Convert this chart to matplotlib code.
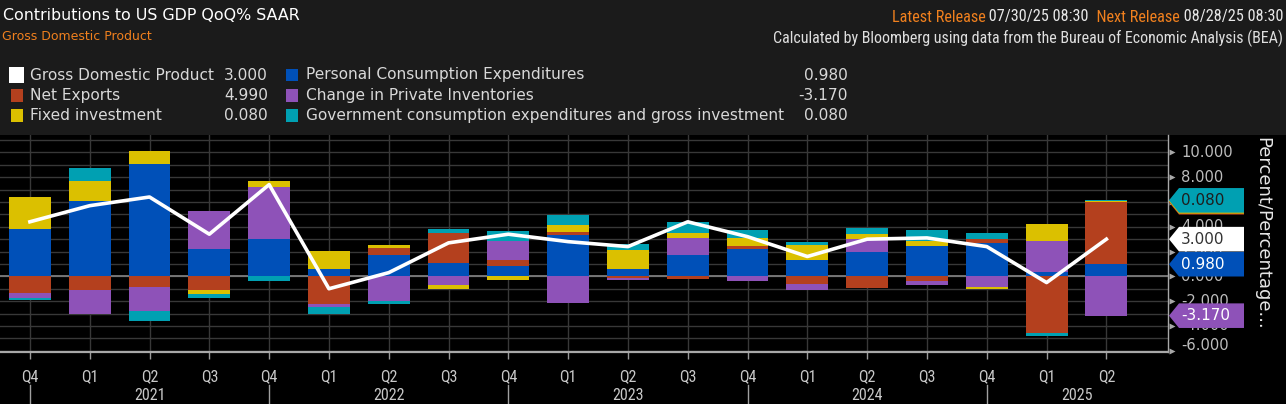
import matplotlib
matplotlib.use("Agg")
import matplotlib.pyplot as plt
import numpy as np
from matplotlib.patches import Polygon, Rectangle
from matplotlib.transforms import blended_transform_factory
from matplotlib import font_manager

# ---------------- data ----------------
quarters = ["Q4", "Q1", "Q2", "Q3", "Q4", "Q1", "Q2", "Q3", "Q4", "Q1",
            "Q2", "Q3", "Q4", "Q1", "Q2", "Q3", "Q4", "Q1", "Q2"]
years = ["2021", "2022", "2023", "2024", "2025"]

pce = [3.83, 6.09, 9.03, 2.18, 2.99, 0.62, 1.75, 1.05, 0.86, 3.32,
       0.62, 1.75, 2.24, 1.35, 1.97, 2.48, 2.70, 0.32, 0.98]
net_exports = [-1.32, -1.13, -0.84, -1.13, 0.00, -2.26, 0.51, 2.45, 0.49, 0.27,
               -0.10, -0.19, 0.22, -0.59, -0.92, -0.40, 0.30, -4.53, 4.99]
inventories = [-0.40, -1.91, -1.94, 3.07, 4.23, -0.19, -1.97, -0.67, 1.48, -2.13,
               -0.22, 1.35, -0.40, -0.51, 1.02, -0.27, -0.84, 2.56, -3.17]
fixed_inv = [2.56, 1.64, 1.05, -0.27, 0.49, 1.43, 0.30, -0.32, -0.30, 0.54,
             1.54, 0.38, 0.65, 1.16, 0.43, 0.38, -0.16, 1.32, 0.08]
government = [-0.22, 1.00, -0.81, -0.32, -0.38, -0.59, -0.27, 0.30, 0.86, 0.81,
              0.49, 0.94, 0.59, 0.27, 0.51, 0.84, 0.49, -0.30, 0.08]
gdp = [4.4, 5.7, 6.4, 3.4, 7.4, -1.0, 0.3, 2.7, 3.4, 2.8,
       2.4, 4.4, 3.2, 1.6, 3.0, 3.1, 2.4, -0.5, 3.0]

# ---------------- style ----------------
C_BLUE = "#0050b8"
C_RED = "#b4401e"
C_PURPLE = "#8e52b8"
C_YELLOW = "#dbc000"
C_TEAL = "#00a0b2"
C_ORANGE = "#f0801e"
HEADER_BG = "#1b1b1b"

def pick_cond():
    names = {f.name: f for f in font_manager.fontManager.ttflist}
    for c in ["DejaVu Sans Condensed", "Liberation Sans Narrow", "Roboto Condensed",
              "Open Sans Condensed"]:
        if c in names:
            return {"family": c}
    for f in font_manager.fontManager.ttflist:
        if f.name == "DejaVu Sans" and f.stretch == "condensed":
            return {"family": "DejaVu Sans", "stretch": "condensed"}
    return {"family": "DejaVu Sans"}

COND = pick_cond()

W, H = 1286, 404
def fx(p):
    return p / W
def fy(p):
    return 1 - p / H

fig = plt.figure(figsize=(W / 100, H / 100), dpi=100)
fig.patch.set_facecolor(HEADER_BG)
fig.add_artist(Rectangle((0, 0), 1, fy(135), transform=fig.transFigure,
                         facecolor="black", edgecolor="none", zorder=-5))

ax = fig.add_axes([0, 52 / H, 1168 / W, 217 / H])
ax.set_facecolor("black")

x = np.arange(len(quarters))
series = [
    ("Personal Consumption Expenditures", pce, C_BLUE),
    ("Net Exports", net_exports, C_RED),
    ("Change in Private Inventories", inventories, C_PURPLE),
    ("Fixed investment", fixed_inv, C_YELLOW),
    ("Government consumption expenditures and gross investment", government, C_TEAL),
]
pos_base = np.zeros(len(x))
neg_base = np.zeros(len(x))
last_top = {}
for name, vals, col in series:
    v = np.array(vals, dtype=float)
    bottom = np.where(v >= 0, pos_base, neg_base)
    ax.bar(x, v, 0.7, bottom=bottom, color=col, linewidth=0, zorder=3)
    last_top[name] = bottom[-1] + v[-1]
    pos_base += np.where(v >= 0, v, 0)
    neg_base += np.where(v < 0, v, 0)

ax.plot(x, gdp, color="white", lw=2.6, zorder=5, solid_joinstyle="round")

XMAX = 19.03
ax.set_xlim(-0.5, XMAX)
ax.set_ylim(-6.1, 11.4)
ax.set_yticks(np.arange(-6, 12, 1))
ax.set_xticks(x)
ax.grid(True, color="#383838", lw=1.0, zorder=0)
ax.set_axisbelow(True)
ax.axhline(0, color="#7c7c7c", lw=1.3, zorder=2)
ax.tick_params(axis="y", left=False, right=False, labelleft=False)
ax.tick_params(axis="x", length=5, width=1, color="#9a9a9a", labelbottom=False)
for s in ["top", "left"]:
    ax.spines[s].set_visible(False)
ax.spines["bottom"].set_color("#a8a8a8")
ax.spines["bottom"].set_linewidth(1.6)
ax.spines["right"].set_color("#a8a8a8")
ax.spines["right"].set_linewidth(1.0)

bt = blended_transform_factory(ax.transAxes, ax.transData)
bx = blended_transform_factory(ax.transData, ax.transAxes)

# right axis: triangles and labels
for v in range(-6, 11, 2):
    ax.plot([1172 / 1168], [v], marker=">", ms=5, color="#a8a8a8", mec="none",
            transform=bt, clip_on=False, zorder=6)
    yy = v + 0.4 if v == -6 else v
    ax.text(1181 / 1168, yy, f"{v:.3f}", transform=bt, ha="left", va="center",
            fontsize=10.6, color="#bdbdbd", zorder=6)

# value tags
hh = 12.3 / 12.4
def tag(yv, fc, txt, tc, z):
    pts = [(1169 / 1168, yv), (1179 / 1168, yv + hh), (1244 / 1168, yv + hh),
           (1244 / 1168, yv - hh), (1179 / 1168, yv - hh)]
    ax.add_patch(Polygon(pts, closed=True, transform=bt, facecolor=fc,
                         edgecolor="none", clip_on=False, zorder=z))
    if txt:
        ax.text(1181 / 1168, yv, txt, transform=bt, ha="left", va="center",
                fontsize=11, color=tc, zorder=z + 0.5, clip_on=False)

# net exports and fixed investment tags sit hidden under the government tag
tag(last_top["Net Exports"], C_RED, None, "white", 10)
tag(last_top["Fixed investment"], C_YELLOW, None, "#222222", 11)
tag(last_top["Government consumption expenditures and gross investment"], C_TEAL,
    f"{government[-1]:.3f}", "#1e1e1e", 12)
tag(gdp[-1], "white", f"{gdp[-1]:.3f}", "#333333", 13)
tag(last_top["Personal Consumption Expenditures"], C_BLUE, f"{pce[-1]:.3f}", "white", 14)
tag(last_top["Change in Private Inventories"], C_PURPLE, f"{inventories[-1]:.3f}", "white", 15)

fig.text(fx(1262), fy(137), "Percent/Percentage...", rotation=270, ha="center",
         va="top", fontsize=13, color="#e6e6e6")

# x labels
for i, q in enumerate(quarters):
    ax.text(i, (352 - 377) / 217, q, transform=bx, ha="center", va="center",
            fontsize=11.5, color="#c8c8c8", **COND)
for k, yr in enumerate(years):
    start = 4 * k
    end = min(4 * k + 4, XMAX)
    ax.text((start + end) / 2, (352 - 395) / 217, yr, transform=bx, ha="center",
            va="center", fontsize=11.5, color="#c8c8c8", **COND)
    ax.plot([start, start], [(352 - 385) / 217, -0.25], color="#a0a0a0", lw=1,
            transform=bx, clip_on=False)

# header
fig.text(fx(3), fy(16), "Contributions to US GDP QoQ% SAAR", ha="left", va="center",
         fontsize=11.4, color="white")
fig.text(fx(2), fy(37), "Gross Domestic Product", ha="left", va="center",
         fontsize=9, color=C_ORANGE)

renderer = fig.canvas.get_renderer()
pieces = [("Latest Release", C_ORANGE), (" 07/30/25 08:30", "#e8e8e8"),
          ("  Next Release", C_ORANGE), (" 08/28/25 08:30", "#e8e8e8")]
xr = 1283
for txt, col in reversed(pieces):
    t = fig.text(fx(xr), fy(17), txt, ha="right", va="center", fontsize=11.7,
                 color=col, **COND)
    bb = t.get_window_extent(renderer)
    xr = bb.x0
fig.text(fx(1283), fy(38), "Calculated by Bloomberg using data from the Bureau of Economic Analysis (BEA)",
         ha="right", va="center", fontsize=11.5, color="#dedede", **COND)

# legend
LEG_TC = "#d8d8d8"
rows = [75, 95.5, 115.5]
col1 = [("Gross Domestic Product", "white", gdp[-1], 15),
        ("Net Exports", C_RED, net_exports[-1], 12),
        ("Fixed investment", C_YELLOW, fixed_inv[-1], 12)]
col2 = [("Personal Consumption Expenditures", C_BLUE, pce[-1], 12),
        ("Change in Private Inventories", C_PURPLE, inventories[-1], 12),
        ("Government consumption expenditures and gross investment", C_TEAL, government[-1], 12)]

def leg_item(xsq, xtxt, xval, yc, label, color, val, size):
    x0 = xsq + (15 - size) / 2 if size < 15 else xsq
    fig.add_artist(Rectangle((fx(x0), fy(yc + size / 2)), size / W, size / H,
                             transform=fig.transFigure, facecolor=color,
                             edgecolor="none"))
    fig.text(fx(xtxt), fy(yc), label, ha="left", va="center", fontsize=11.1, color=LEG_TC)
    fig.text(fx(xval), fy(yc), f"{val:.3f}", ha="right", va="center", fontsize=11.1,
             color=LEG_TC)

for (lab, c, v, s), yc in zip(col1, rows):
    leg_item(9, 30, 268, yc, lab, c, v, s)
for (lab, c, v, s), yc in zip(col2, rows):
    leg_item(284, 306, 848, yc, lab, c, v, s)

fig.savefig("out.png", dpi=100, facecolor=fig.get_facecolor())
